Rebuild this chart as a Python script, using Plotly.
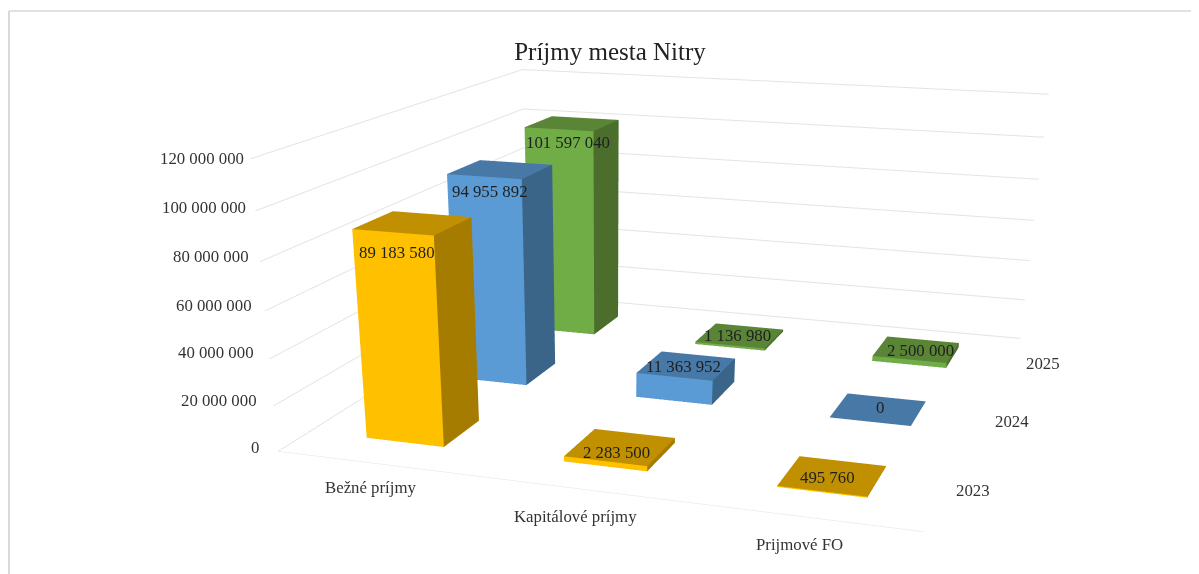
import plotly.graph_objects as go

# ---- data ----
title_text = "Príjmy mesta Nitry"
categories = ["Bežné príjmy", "Kapitálové príjmy", "Prijmové FO"]
years = ["2023", "2024", "2025"]
v2023 = [89183580, 2283500, 495760]
v2024 = [94955892, 11363952, 0]
v2025 = [101597040, 1136980, 2500000]
z_ticks = [0, 20000000, 40000000, 60000000, 80000000, 100000000, 120000000]

# ---- styling ----
FAMILY = "Liberation Serif"
WW, HH = 1199, 1395              # a tall scene gives the long lens of the reference's 3-D view
PAD = 8                          # page margin around the figure
BAR_FRACTION = 0.4
TEXT_DX = 2
palette = [("#FFC000", "#A67C00", "#C09000"),
           ("#5B9BD5", "#3A6589", "#4878A5"),
           ("#70AD47", "#4C6E2C", "#5A8436")]
label_offsets = [[(-18, -29.5), (-5.5, -5.5), (-6.5, -1.5)],
                 [(-12.5, -22.5), (-4.5, -0.5), (0, 1.5)],
                 [(-6.5, -18.5), (-4.5, 0.5), (2.5, -1.5)]]
tick_xshift = [-19.5, -17, -15, -13, -11, -9, -6.5]
tick_yshift = [3.5, 5, 6, 5, 5, 3.5, 0.5]
cat_yshift = [-24.5, -27.5, -27.5]
cat_xshift = [-7, -8, -7]
year_xshift = [26.5, 30.5, 32.5]
year_yshift = [-0.5, -1.5, -0.5]

fmt = lambda v: f"{v:,}".replace(",", "\u00a0")
fig = go.Figure()


def add_bar(xc, yc, height, colors):
    half = BAR_FRACTION / 2
    x0, x1, y0, y1 = xc - half, xc + half, yc - half, yc + half
    fig.add_trace(go.Mesh3d(
        x=[x0, x1, x1, x0, x0, x1, x1, x0],
        y=[y0, y0, y1, y1, y0, y0, y1, y1],
        z=[0, 0, 0, 0, height, height, height, height],
        i=[0, 0, 1, 1, 4, 4], j=[1, 5, 2, 6, 5, 6], k=[5, 4, 6, 5, 6, 7],
        facecolor=[colors[0], colors[0], colors[1], colors[1], colors[2], colors[2]],
        flatshading=True,
        lighting=dict(ambient=1, diffuse=0, specular=0, fresnel=0),
        hoverinfo="skip", showscale=False))


anns = []
label_font = dict(family=FAMILY, size=16.8, color="#1f1f1f")
axis_font = dict(family=FAMILY, size=16.8, color="#333333")
for yi, vals in enumerate([v2023, v2024, v2025]):
    for xi, v in enumerate(vals):
        add_bar(xi + .5, yi + .5, v, palette[yi])
        dx, dy = label_offsets[yi][xi]
        anns.append(dict(x=xi + .5, y=yi + .5, z=v, text=fmt(v), showarrow=False,
                         font=label_font, xshift=dx + TEXT_DX, yshift=dy))
for n, tk in enumerate(z_ticks):
    anns.append(dict(x=0, y=0, z=tk, text=fmt(tk), showarrow=False, font=axis_font,
                     xanchor="right", xshift=tick_xshift[n] + TEXT_DX, yshift=tick_yshift[n]))
for n, cat in enumerate(categories):
    anns.append(dict(x=n + .5, y=0, z=0, text=cat, showarrow=False, font=axis_font,
                     xshift=cat_xshift[n] + TEXT_DX, yshift=cat_yshift[n]))
for n, yr in enumerate(years):
    anns.append(dict(x=3, y=n + .5, z=0, text=yr, showarrow=False, font=axis_font,
                     xshift=year_xshift[n] + TEXT_DX, yshift=year_yshift[n]))

axis_common = dict(title="", showbackground=False, zeroline=False, ticks="", showspikes=False,
                   showticklabels=False)
frame = "#d9d9d9"
fy = lambda py: 1 - (py - PAD) / HH
fx = lambda px: (px - PAD) / WW
fig.update_layout(
    width=WW, height=HH, margin=dict(l=0, r=0, t=0, b=0), paper_bgcolor="white",
    font=dict(family=FAMILY, color="#222222"), showlegend=False,
    title=dict(text=title_text, x=fx(610), y=fy(51), xanchor="center", yanchor="middle",
               font=dict(family=FAMILY, size=25, color="#222222")),
    scene=dict(
        domain=dict(x=[0, 1], y=[0, 1]), aspectmode="manual",
        aspectratio=dict(x=2.2914, y=2.3696, z=1), annotations=anns, bgcolor="rgba(0,0,0,0)",
        camera=dict(eye=dict(x=1.8532, y=-6.1720, z=1.4760),
                    center=dict(x=-0.03058, y=-0.83828, z=-1.49389),
                    up=dict(x=-0.0109, y=-0.0038, z=1),
                    projection=dict(type="perspective")),
        xaxis=dict(range=[0, 3], showgrid=False, showline=True, linecolor="#e3e3e3", **axis_common),
        yaxis=dict(range=[0, 3], showgrid=False, **axis_common),
        zaxis=dict(range=[0, z_ticks[-1]], tickvals=z_ticks, gridcolor="#e3e3e3", **axis_common),
    ),
    shapes=[dict(type="line", xref="paper", yref="paper", x0=fx(9), x1=1, y0=fy(11), y1=fy(11),
                 line=dict(color=frame, width=1.5)),
            dict(type="line", xref="paper", yref="paper", x0=fx(9), x1=fx(9), y0=fy(11), y1=0,
                 line=dict(color=frame, width=2))],
)
fig.write_html("out.html")
